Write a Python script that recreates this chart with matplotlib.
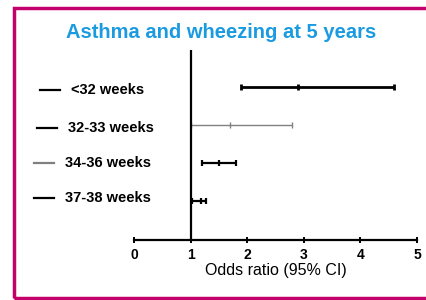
import matplotlib.pyplot as plt
from matplotlib.lines import Line2D
from matplotlib.patches import Rectangle

plt.rcParams['font.family'] = ['Liberation Sans', 'DejaVu Sans']

groups = ['<32 weeks', '32-33 weeks', '34-36 weeks', '37-38 weeks']
odds = [2.90, 1.70, 1.51, 1.18]
lower = [1.89, 1.00, 1.21, 1.02]
upper = [4.60, 2.80, 1.80, 1.28]
bar_colors = ['black', 'grey', 'black', 'black']
bar_widths = [2.0, 1.0, 1.6, 1.6]
key_colors = ['black', 'black', 'grey', 'black']

fig = plt.figure(figsize=(4.27, 3.0), dpi=100)
ax = fig.add_axes([0.3138, 0.2, 0.6628, 0.6333])

ypos = [4, 3, 2, 1]
for i in range(len(groups)):
    err = [[odds[i] - lower[i]], [upper[i] - odds[i]]]
    ax.errorbar([odds[i]], [ypos[i]], xerr=err, fmt='none', ecolor=bar_colors[i],
                elinewidth=bar_widths[i], capsize=2.2, capthick=bar_widths[i])
    ax.plot([odds[i]], [ypos[i]], marker='|', markersize=5, color=bar_colors[i],
            markeredgewidth=bar_widths[i])

ax.axvline(1, color='black', linewidth=1.6, zorder=5)
ax.set_xlim(0, 5)
ax.set_ylim(-0.03, 4.97)
ax.set_xticks([0, 1, 2, 3, 4, 5])
ax.set_yticks([])
for s in ['left', 'right', 'top']:
    ax.spines[s].set_visible(False)
ax.spines['bottom'].set_linewidth(1.6)
ax.tick_params(axis='x', direction='inout', length=5, width=1.4, labelsize=10, pad=3)
for lab in ax.get_xticklabels():
    lab.set_fontweight('bold')
ax.set_xlabel('Odds ratio (95% CI)', fontsize=11.5, labelpad=1)

# left key: short line + label per group
key_y = [90, 128, 163, 198]
key_x = [40, 37, 34, 34]
for i in range(len(groups)):
    yf = 1 - key_y[i] / 300
    x0 = key_x[i] / 427
    fig.add_artist(Line2D([x0, x0 + 20 / 427], [yf, yf], color=key_colors[i], linewidth=1.6))
    fig.text(x0 + 31 / 427, yf, groups[i], fontsize=10.5, fontweight='bold', va='center', ha='left')

fig.text(0.517, 1 - 33 / 300, 'Asthma and wheezing at 5 years', color='#1a9be0',
         fontsize=14.5, fontweight='bold', ha='center', va='center')

fig.add_artist(Rectangle((14 / 427, 1 - 298 / 300), 1.1, (298 - 7.5) / 300, transform=fig.transFigure,
                         fill=False, edgecolor='#c4006c', linewidth=2.5))

fig.savefig('out.png', dpi=100)
